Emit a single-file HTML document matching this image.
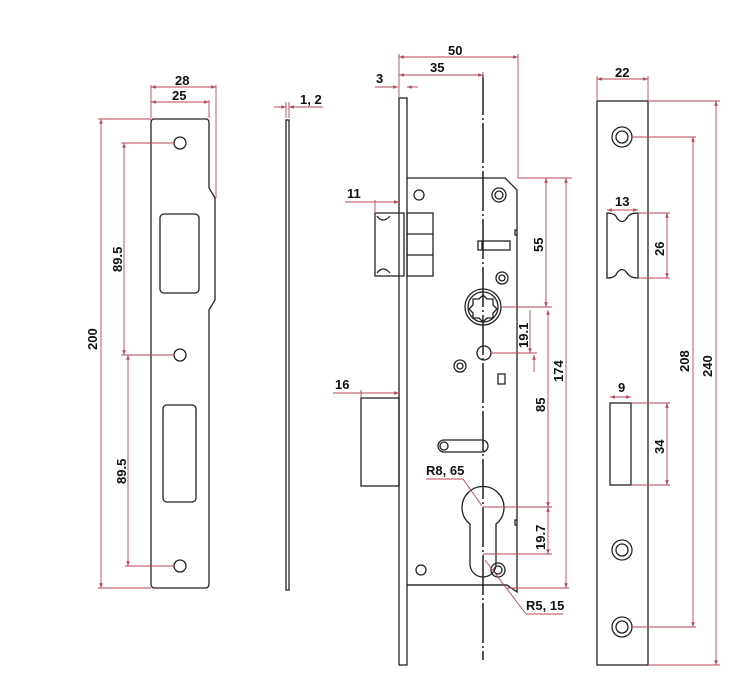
<!DOCTYPE html>
<html><head><meta charset="utf-8"><style>
html,body{margin:0;padding:0;background:#fff;width:750px;height:680px;overflow:hidden}
svg{display:block}
.k{stroke:#222;stroke-width:1.3;fill:none}
.r{stroke:#b5475a;stroke-width:.9;fill:none}
text{font-family:"Liberation Sans",sans-serif;font-size:13px;font-weight:bold;fill:#111}
</style></head><body>
<svg width="750" height="680" viewBox="0 0 750 680" xmlns="http://www.w3.org/2000/svg">
<defs><marker id="a" viewBox="0 0 8 6" refX="8" refY="3" markerWidth="6" markerHeight="4" orient="auto-start-reverse"><path d="M0,0L8,3L0,6z" fill="#b5475a"/></marker></defs>
<path class="k" d="M154,119H206Q209,119 209,123V188L215,198V300L209,310V584Q209,588 205,588H155Q151,588 151,584V123Q151,119 154,119Z"/>
<circle class="k" cx="180" cy="143" r="6"/><circle class="k" cx="180" cy="355" r="6"/><circle class="k" cx="180" cy="566" r="6"/>
<rect class="k" x="160" y="214" width="39" height="79" rx="4"/>
<rect class="k" x="163" y="405" width="33" height="97" rx="4"/>
<line class="r" x1="151" y1="85" x2="151" y2="118"/><line class="r" x1="216" y1="85" x2="216" y2="198"/><line class="r" x1="209" y1="100" x2="209" y2="118"/>
<line class="r" x1="151" y1="87" x2="216" y2="87" marker-start="url(#a)" marker-end="url(#a)"/>
<line class="r" x1="151" y1="102" x2="209" y2="102" marker-start="url(#a)" marker-end="url(#a)"/>
<text x="175" y="85">28</text><text x="172" y="100">25</text>
<line class="r" x1="98" y1="119" x2="151" y2="119"/><line class="r" x1="98" y1="588" x2="151" y2="588"/>
<line class="r" x1="101" y1="119" x2="101" y2="588" marker-start="url(#a)" marker-end="url(#a)"/>
<text transform="translate(97,350) rotate(-90)">200</text>
<line class="r" x1="121" y1="143" x2="174" y2="143"/><line class="r" x1="121" y1="355" x2="174" y2="355"/><line class="r" x1="125" y1="566" x2="174" y2="566"/>
<line class="r" x1="124" y1="143" x2="124" y2="355" marker-start="url(#a)" marker-end="url(#a)"/>
<line class="r" x1="128" y1="355" x2="128" y2="566" marker-start="url(#a)" marker-end="url(#a)"/>
<text transform="translate(122,272) rotate(-90)">89.5</text>
<text transform="translate(126,484) rotate(-90)">89.5</text>
<rect class="k" x="286" y="120" width="3" height="470"/>
<line class="r" x1="274" y1="107" x2="286" y2="107" marker-end="url(#a)"/><line class="r" x1="289" y1="107" x2="323" y2="107" marker-start="url(#a)"/>
<line class="r" x1="286" y1="102" x2="286" y2="118"/><line class="r" x1="289" y1="102" x2="289" y2="118"/>
<text x="300" y="104">1, 2</text>
<rect class="k" x="399" y="98" width="8" height="567"/>
<path class="k" d="M407,178H505L517,190V592L507,585H407"/>
<line class="k" x1="407" y1="585" x2="507" y2="585"/>
<path class="k" d="M517,230h-2v5h2"/><path class="k" d="M517,520h-2v5h2"/>
<line x1="483" y1="75" x2="483" y2="660" stroke="#111" stroke-width="1.4" stroke-dasharray="40,3,2,3"/>
<line class="r" x1="399" y1="54" x2="399" y2="97"/><line class="r" x1="518" y1="54" x2="518" y2="178"/><line class="r" x1="483" y1="72" x2="483" y2="78"/>
<line class="r" x1="399" y1="57" x2="518" y2="57" marker-start="url(#a)" marker-end="url(#a)"/>
<line class="r" x1="399" y1="75" x2="483" y2="75" marker-start="url(#a)" marker-end="url(#a)"/>
<text x="448" y="55">50</text><text x="430" y="72">35</text>
<line class="r" x1="375" y1="87" x2="398" y2="87" marker-end="url(#a)"/><line class="r" x1="407" y1="87" x2="418" y2="87" marker-start="url(#a)"/>
<text x="376" y="83">3</text>
<path class="k" d="M375,213H404V276H375Z"/><path class="k" d="M377,216q6,8 13,0"/><path class="k" d="M377,273q6,-8 13,0"/>
<rect class="k" x="407" y="213" width="26" height="63"/><line class="k" x1="407" y1="234" x2="433" y2="234"/><line class="k" x1="407" y1="255" x2="433" y2="255"/>
<line class="r" x1="375" y1="200" x2="375" y2="212"/>
<line class="r" x1="345" y1="202" x2="399" y2="202" marker-end="url(#a)"/>
<text x="347" y="198">11</text>
<rect class="k" x="361" y="398" width="38" height="88"/>
<line class="r" x1="361" y1="390" x2="361" y2="397"/>
<line class="r" x1="333" y1="393" x2="399" y2="393" marker-end="url(#a)"/>
<text x="335" y="389">16</text>
<circle class="k" cx="419" cy="195" r="5"/><circle class="k" cx="499" cy="195" r="7"/><circle class="k" cx="499" cy="195" r="4"/>
<rect class="k" x="478" y="241" width="32" height="9"/><line class="k" x1="482" y1="241" x2="482" y2="250"/>
<circle class="k" cx="502" cy="278" r="6"/><circle class="k" cx="502" cy="278" r="3"/>
<circle class="k" cx="483" cy="307" r="18"/><circle class="k" cx="483" cy="307" r="15"/>
<path class="k" d="M483,295l4,4l6,0l0,6l4,4l-4,4l0,5l-6,0l-4,4l-4,-4l-6,0l0,-5l-4,-4l4,-4l0,-6l6,0z"/>
<circle class="k" cx="484" cy="353" r="7"/>
<circle class="k" cx="460" cy="366" r="6"/><circle class="k" cx="460" cy="366" r="3"/>
<rect class="k" x="498" y="374" width="7" height="10"/>
<rect class="k" x="438" y="440" width="50" height="12" rx="6"/><circle class="k" cx="444" cy="446" r="4"/>
<path class="k" d="M470,524A21,21 0 1 1 496,524V564A13,13 0 0 1 470,564Z"/>
<circle class="k" cx="421" cy="570" r="5"/><circle class="k" cx="498" cy="570" r="7"/><circle class="k" cx="498" cy="570" r="4"/>
<line class="r" x1="518" y1="178" x2="572" y2="178"/><line class="r" x1="501" y1="307" x2="552" y2="307"/>
<line class="r" x1="546" y1="178" x2="546" y2="307" marker-start="url(#a)" marker-end="url(#a)"/>
<text transform="translate(543,252) rotate(-90)">55</text>
<line class="r" x1="566" y1="178" x2="566" y2="588" marker-start="url(#a)" marker-end="url(#a)"/>
<line class="r" x1="507" y1="588" x2="569" y2="588"/>
<text transform="translate(563,382) rotate(-90)">174</text>
<line class="r" x1="548" y1="310" x2="548" y2="507" marker-start="url(#a)" marker-end="url(#a)"/>
<text transform="translate(545,412) rotate(-90)">85</text>
<line class="r" x1="491" y1="353" x2="537" y2="353"/>
<line class="r" x1="530" y1="310" x2="530" y2="353" marker-end="url(#a)"/>
<line class="r" x1="534" y1="355" x2="534" y2="372" marker-start="url(#a)"/>
<text transform="translate(528,348) rotate(-90)">19.1</text>
<line class="r" x1="483" y1="507" x2="552" y2="507"/><line class="r" x1="483" y1="554" x2="552" y2="554"/>
<line class="r" x1="548" y1="507" x2="548" y2="554" marker-start="url(#a)" marker-end="url(#a)"/>
<text transform="translate(545,550) rotate(-90)">19.7</text>
<text x="426" y="475">R8, 65</text><line class="r" x1="426" y1="479" x2="463" y2="479"/><line class="r" x1="463" y1="479" x2="482" y2="506"/>
<text x="526" y="610">R5, 15</text><line class="r" x1="526" y1="614" x2="563" y2="614"/><line class="r" x1="526" y1="614" x2="485" y2="560"/>
<rect class="k" x="597" y="101" width="51" height="564"/>
<circle class="k" cx="622" cy="137" r="10"/><circle class="k" cx="622" cy="137" r="6"/>
<circle class="k" cx="622" cy="550" r="10"/><circle class="k" cx="622" cy="550" r="6"/>
<circle class="k" cx="622" cy="627" r="10"/><circle class="k" cx="622" cy="627" r="6"/>
<path class="k" d="M607,213q8,0 10,5q5,7 10,0q2,-5 11,-5V278q-8,0 -11,-5q-5,-7 -10,0q-2,5 -10,5Z"/>
<rect class="k" x="610" y="403" width="21" height="82"/>
<line class="r" x1="597" y1="76" x2="597" y2="100"/><line class="r" x1="648" y1="76" x2="648" y2="100"/>
<line class="r" x1="597" y1="79" x2="648" y2="79" marker-start="url(#a)" marker-end="url(#a)"/><text x="615" y="77">22</text>
<line class="r" x1="648" y1="101" x2="720" y2="101"/><line class="r" x1="648" y1="665" x2="720" y2="665"/>
<line class="r" x1="716" y1="101" x2="716" y2="665" marker-start="url(#a)" marker-end="url(#a)"/>
<text transform="translate(712,377) rotate(-90)">240</text>
<line class="r" x1="632" y1="137" x2="696" y2="137"/><line class="r" x1="632" y1="627" x2="696" y2="627"/>
<line class="r" x1="693" y1="137" x2="693" y2="627" marker-start="url(#a)" marker-end="url(#a)"/>
<text transform="translate(689,372) rotate(-90)">208</text>
<line class="r" x1="638" y1="213" x2="670" y2="213"/><line class="r" x1="638" y1="278" x2="670" y2="278"/>
<line class="r" x1="667" y1="213" x2="667" y2="278" marker-start="url(#a)" marker-end="url(#a)"/>
<text transform="translate(664,256) rotate(-90)">26</text>
<line class="r" x1="607" y1="210" x2="638" y2="210" marker-start="url(#a)" marker-end="url(#a)"/><text x="615" y="206">13</text>
<line class="r" x1="631" y1="403" x2="670" y2="403"/><line class="r" x1="631" y1="485" x2="670" y2="485"/>
<line class="r" x1="667" y1="403" x2="667" y2="485" marker-start="url(#a)" marker-end="url(#a)"/>
<text transform="translate(664,454) rotate(-90)">34</text>
<line class="r" x1="610" y1="397" x2="631" y2="397" marker-start="url(#a)" marker-end="url(#a)"/><text x="618" y="392">9</text>
</svg>
</body></html>
